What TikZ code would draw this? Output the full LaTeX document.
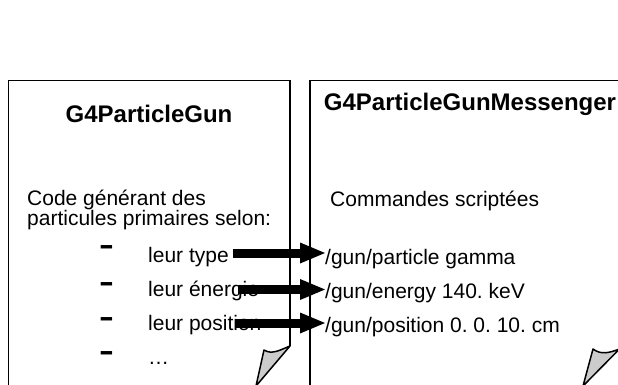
\documentclass[tikz,border=0pt]{standalone}
\usepackage{fontspec}
\setmainfont{Liberation Sans}
\usepackage{graphicx}
\usetikzlibrary{arrows.meta}
\frenchspacing

\begin{document}
\begin{tikzpicture}[x=1pt, y=-1pt,
  every node/.style={font=\fontsize{21}{20}\selectfont, inner sep=0pt},
  page/.style={line width=1.5pt},
  fold/.style={line width=1.5pt, fill=black!20, line join=round},
  title/.style={font=\fontsize{24}{24}\selectfont\bfseries},
  item/.style={anchor=base west},
  bullet/.style={anchor=base west, font=\fontsize{23}{23}\selectfont\bfseries},
  push/.style={line width=9pt, -{Triangle[length=25pt, width=21pt, line width=0pt]}}]
\useasboundingbox (0,0) rectangle (618,385);
\fill[white] (0,0) rectangle (618,385);
\clip (0,0) rectangle (618,385);
% left page, with its curled corner
\draw[page] (8.5,400) -- (8.5,80.5) -- (290,80.5) -- (290,346);
\draw[fold] (290,346) .. controls (280,350) and (272,355) .. (264,350) -- (256,386) -- cycle;
% right page
\draw[page] (310,400) -- (310,80.5) -- (619.5,80.5) -- (619.5,349);
\draw[fold] (619.5,349) .. controls (609,353) and (601,355) .. (593,349) -- (583,386) -- cycle;

\node[title] (gun) at (149,114) {G4ParticleGun};
\node[title] (msg) at (470,104) {G4ParticleGunMessenger};

\node[anchor=west, align=left] (code) at (27,210) {Code générant des\\particules primaires selon:};
\node[bullet] (d1) at (100,256) {\scalebox{1}[1.5]{–}};
\node[bullet] (d2) at (100,293) {\scalebox{1}[1.5]{–}};
\node[bullet] (d3) at (100,328) {\scalebox{1}[1.5]{–}};
\node[bullet] (d4) at (100,362) {\scalebox{1}[1.5]{–}};
\node[item] (type) at (148,262.5) {leur type};
\node[item] (nrj) at (148,296.5) {leur énergie};
\node[item] (pos) at (148,330.5) {leur position};
\node[item] (etc) at (148,364) {…};

\node[item] (cmds) at (330,206) {Commandes scriptées};
\node[item] (c1) at (325,264.5) {/gun/particle gamma};
\node[item] (c2) at (325,298) {/gun/energy 140. keV};
\node[item] (c3) at (325,332) {/gun/position 0. 0. 10. cm};

% arrows from the list into the commands
\coordinate (s1) at (233,253);
\coordinate (s2) at (238,289.5);
\coordinate (s3) at (236,323);
\draw[push] (s1) -- (s1 -| c1.west);
\draw[push] (s2) -- (s2 -| c2.west);
\draw[push] (s3) -- (s3 -| c3.west);
\end{tikzpicture}
\end{document}
